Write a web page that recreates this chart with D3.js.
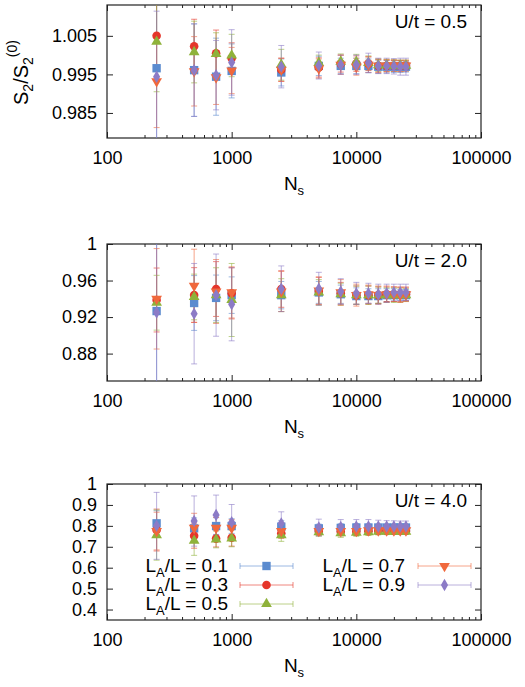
<!DOCTYPE html>
<html>
<head>
<meta charset="utf-8">
<script src="https://cdn.jsdelivr.net/npm/d3@7"></script>
<style>
  body { margin: 0; background: #fff; }
  svg { font-family: "Liberation Sans", Arial, sans-serif; }
  .tick text { font-size: 18px; fill: #000; }
  .tick line { stroke: #222; }
</style>
</head>
<body>
<svg id="chart" width="525" height="687"></svg>
<script>
// sample counts on the x axis
const Ns = [250, 500, 750, 1000, 2500, 5000, 7500, 10000, 12500, 15000, 17500, 20000, 22500, 25000];
const ratios = ["0.1", "0.3", "0.5", "0.7", "0.9"];
const colors = ["#5b8bcf", "#e5352a", "#8fb23a", "#f0683c", "#8c7bc6"];
const xTicks = [100, 1000, 10000, 100000];

// U/t = 0.5
const u05_L01 = [0.9966, 0.9961, 0.9944, 0.9959, 0.9955, 0.9972, 0.9972, 0.9972, 0.9972, 0.9970, 0.9970, 0.9970, 0.9970, 0.9970];
const u05_L03 = [1.0050, 1.0023, 1.0005, 0.9992, 0.9962, 0.9968, 0.9978, 0.9978, 0.9978, 0.9972, 0.9972, 0.9972, 0.9972, 0.9972];
const u05_L05 = [1.0035, 1.0008, 1.0003, 0.9999, 0.9975, 0.9980, 0.9983, 0.9982, 0.9980, 0.9974, 0.9974, 0.9973, 0.9973, 0.9973];
const u05_L07 = [0.9932, 0.9958, 0.9942, 0.9960, 0.9962, 0.9965, 0.9975, 0.9970, 0.9975, 0.9972, 0.9973, 0.9973, 0.9972, 0.9973];
const u05_L09 = [0.9944, 0.9961, 0.9948, 0.9981, 0.9970, 0.9973, 0.9975, 0.9975, 0.9980, 0.9972, 0.9972, 0.9971, 0.9970, 0.9970];
const u05_L01_err = [0.025, 0.012, 0.010, 0.007, 0.0035, 0.0025, 0.002, 0.002, 0.0018, 0.0017, 0.0016, 0.0015, 0.0015, 0.0014];
const u05_L03_err = [0.009, 0.007, 0.006, 0.004, 0.003, 0.0025, 0.0022, 0.002, 0.0018, 0.0016, 0.0015, 0.0014, 0.0014, 0.0013];
const u05_L05_err = [0.013, 0.008, 0.0055, 0.0055, 0.004, 0.002, 0.002, 0.002, 0.0018, 0.0016, 0.0015, 0.0015, 0.0014, 0.0014];
const u05_L07_err = [0.012, 0.009, 0.007, 0.006, 0.003, 0.0025, 0.0025, 0.0022, 0.002, 0.0018, 0.0016, 0.0015, 0.0015, 0.0014];
const u05_L09_err = [0.017, 0.012, 0.009, 0.0085, 0.0055, 0.0035, 0.0025, 0.0025, 0.0025, 0.002, 0.002, 0.002, 0.0022, 0.0022];

// U/t = 2.0
const u20_L01 = [0.9266, 0.9354, 0.941, 0.944, 0.944, 0.947, 0.945, 0.943, 0.943, 0.943, 0.944, 0.944, 0.944, 0.944];
const u20_L03 = [0.9387, 0.9441, 0.9507, 0.946, 0.9507, 0.9485, 0.946, 0.944, 0.944, 0.944, 0.945, 0.945, 0.945, 0.945];
const u20_L05 = [0.9357, 0.942, 0.944, 0.9387, 0.944, 0.947, 0.945, 0.944, 0.944, 0.944, 0.944, 0.944, 0.944, 0.944];
const u20_L07 = [0.940, 0.9543, 0.948, 0.947, 0.948, 0.949, 0.947, 0.944, 0.945, 0.944, 0.945, 0.945, 0.944, 0.945];
const u20_L09 = [0.925, 0.9237, 0.944, 0.934, 0.951, 0.951, 0.948, 0.946, 0.946, 0.945, 0.946, 0.947, 0.947, 0.947];
const u20_L01_err = [0.09, 0.03, 0.025, 0.02, 0.015, 0.012, 0.01, 0.009, 0.008, 0.008, 0.007, 0.007, 0.006, 0.006];
const u20_L03_err = [0.035, 0.03, 0.03, 0.028, 0.02, 0.015, 0.012, 0.01, 0.01, 0.009, 0.008, 0.008, 0.008, 0.007];
const u20_L05_err = [0.03, 0.025, 0.03, 0.04, 0.018, 0.014, 0.012, 0.01, 0.01, 0.009, 0.008, 0.008, 0.008, 0.007];
const u20_L07_err = [0.055, 0.04, 0.035, 0.028, 0.022, 0.015, 0.014, 0.012, 0.01, 0.01, 0.009, 0.008, 0.008, 0.008];
const u20_L09_err = [0.09, 0.055, 0.045, 0.04, 0.025, 0.018, 0.014, 0.012, 0.011, 0.011, 0.01, 0.009, 0.009, 0.009];

// U/t = 4.0
const u40_L01 = [0.812, 0.788, 0.799, 0.799, 0.796, 0.788, 0.79, 0.792, 0.792, 0.792, 0.792, 0.792, 0.792, 0.792];
const u40_L03 = [0.78, 0.753, 0.739, 0.743, 0.765, 0.775, 0.772, 0.772, 0.774, 0.775, 0.775, 0.775, 0.775, 0.775];
const u40_L05 = [0.756, 0.729, 0.735, 0.74, 0.756, 0.77, 0.765, 0.768, 0.77, 0.772, 0.772, 0.772, 0.772, 0.772];
const u40_L07 = [0.775, 0.79, 0.79, 0.79, 0.775, 0.775, 0.775, 0.775, 0.778, 0.778, 0.778, 0.778, 0.778, 0.778];
const u40_L09 = [0.80, 0.823, 0.852, 0.817, 0.812, 0.792, 0.795, 0.797, 0.797, 0.797, 0.797, 0.797, 0.797, 0.797];
const u40_L01_err = [0.06, 0.05, 0.04, 0.035, 0.03, 0.02, 0.02, 0.018, 0.016, 0.015, 0.014, 0.013, 0.012, 0.012];
const u40_L03_err = [0.1, 0.06, 0.04, 0.04, 0.025, 0.02, 0.02, 0.018, 0.016, 0.015, 0.014, 0.013, 0.012, 0.012];
const u40_L05_err = [0.12, 0.07, 0.04, 0.04, 0.03, 0.02, 0.02, 0.018, 0.016, 0.015, 0.014, 0.013, 0.012, 0.012];
const u40_L07_err = [0.09, 0.07, 0.05, 0.04, 0.03, 0.02, 0.02, 0.018, 0.016, 0.015, 0.014, 0.013, 0.012, 0.012];
const u40_L09_err = [0.16, 0.12, 0.095, 0.085, 0.055, 0.04, 0.035, 0.033, 0.033, 0.03, 0.028, 0.027, 0.026, 0.026];

const yTicksTop = [0.985, 0.995, 1.005];
const yTicksMid = [0.88, 0.92, 0.96, 1];
const yTicksBot = [0.4, 0.5, 0.6, 0.7, 0.8, 0.9, 1];

const symbols = [
    d3.symbol().type(d3.symbolSquare).size(70),
    d3.symbol().type(d3.symbolCircle).size(58),
    d3.symbol().type(d3.symbolTriangle).size(50),
    d3.symbol().type(d3.symbolTriangle).size(50),   // drawn upside down
    d3.symbol().type(d3.symbolDiamond).size(44)
];
const flip = [false, false, false, true, false];

const svg = d3.select("#chart");
const left = 107, right = 481;

const x = d3.scaleLog().domain([100, 100000]).range([left, right]);
const minorX = [];
for (let p = 100; p < 100000; p *= 10) {
    for (let k = 2; k <= 9; k++) minorX.push(k * p);
}

const panels = [
    { top: 5, bottom: 138, domain: [0.9785, 1.013], ticks: yTicksTop, label: "U/t = 0.5",
      vals: [u05_L01, u05_L03, u05_L05, u05_L07, u05_L09],
      errs: [u05_L01_err, u05_L03_err, u05_L05_err, u05_L07_err, u05_L09_err] },
    { top: 244, bottom: 381, domain: [0.85, 1.0], ticks: yTicksMid, label: "U/t = 2.0",
      vals: [u20_L01, u20_L03, u20_L05, u20_L07, u20_L09],
      errs: [u20_L01_err, u20_L03_err, u20_L05_err, u20_L07_err, u20_L09_err] },
    { top: 484, bottom: 620, domain: [0.35, 1.0], ticks: yTicksBot, label: "U/t = 4.0",
      vals: [u40_L01, u40_L03, u40_L05, u40_L07, u40_L09],
      errs: [u40_L01_err, u40_L03_err, u40_L05_err, u40_L07_err, u40_L09_err] }
];

function addNs(sel, cx, baseline) {
    const t = sel.append("text")
        .attr("x", cx).attr("y", baseline)
        .attr("text-anchor", "middle")
        .style("font-size", "19px");
    t.append("tspan").text("N");
    t.append("tspan").attr("dy", 5).style("font-size", "13px").text("s");
}

function drawPanel(p, i) {
    const y = d3.scaleLinear().domain(p.domain).range([p.bottom, p.top]);
    const g = svg.append("g");

    const clipId = "clip" + i;
    svg.append("clipPath").attr("id", clipId)
        .append("rect")
        .attr("x", left).attr("y", p.top)
        .attr("width", right - left).attr("height", p.bottom - p.top);

    // axes, ticks pointing inward
    const fmt = d3.format("~g");
    g.append("g").attr("transform", `translate(0,${p.bottom})`)
        .call(d3.axisBottom(x).tickValues(xTicks).tickSize(-6).tickPadding(13).tickFormat(d3.format("d")));
    g.append("g").attr("transform", `translate(0,${p.bottom})`)
        .call(d3.axisBottom(x).tickValues(minorX).tickSize(-3).tickFormat(""));
    g.append("g").attr("transform", `translate(0,${p.top})`)
        .call(d3.axisTop(x).tickValues(xTicks).tickSize(-6).tickFormat(""));
    g.append("g").attr("transform", `translate(0,${p.top})`)
        .call(d3.axisTop(x).tickValues(minorX).tickSize(-3).tickFormat(""));
    g.append("g").attr("transform", `translate(${left},0)`)
        .call(d3.axisLeft(y).tickValues(p.ticks).tickSize(-6).tickPadding(10).tickFormat(fmt));
    g.append("g").attr("transform", `translate(${right},0)`)
        .call(d3.axisRight(y).tickValues(p.ticks).tickSize(-6).tickFormat(""));
    g.selectAll(".domain").remove();

    g.append("rect")
        .attr("x", left).attr("y", p.top)
        .attr("width", right - left).attr("height", p.bottom - p.top)
        .attr("fill", "none").attr("stroke", "#222").attr("stroke-width", 1.2);

    const data = g.append("g").attr("clip-path", `url(#${clipId})`);

    p.vals.forEach((vals, s) => {
        const pts = Ns.map((n, j) => ({ n: n, v: vals[j], e: p.errs[s][j] }));
        const eb = data.append("g")
            .attr("stroke", colors[s]).attr("stroke-opacity", 0.6).attr("stroke-width", 1);
        eb.selectAll(".bar").data(pts).join("line")
            .attr("x1", d => x(d.n)).attr("x2", d => x(d.n))
            .attr("y1", d => y(d.v - d.e)).attr("y2", d => y(d.v + d.e));
        eb.selectAll(".capt").data(pts).join("line")
            .attr("x1", d => x(d.n) - 3).attr("x2", d => x(d.n) + 3)
            .attr("y1", d => y(d.v + d.e)).attr("y2", d => y(d.v + d.e));
        eb.selectAll(".capb").data(pts).join("line")
            .attr("x1", d => x(d.n) - 3).attr("x2", d => x(d.n) + 3)
            .attr("y1", d => y(d.v - d.e)).attr("y2", d => y(d.v - d.e));
    });

    p.vals.forEach((vals, s) => {
        data.append("g").selectAll("path")
            .data(Ns.map((n, j) => ({ n: n, v: vals[j] })))
            .join("path")
            .attr("d", symbols[s])
            .attr("transform", d => `translate(${x(d.n)},${y(d.v)})` + (flip[s] ? " rotate(180)" : ""))
            .attr("fill", colors[s]);
    });

    svg.append("text")
        .attr("x", 467).attr("y", p.top + 23)
        .attr("text-anchor", "end")
        .style("font-size", "19px")
        .text(p.label);

    addNs(svg, (left + right) / 2, p.bottom + 52);
}

panels.forEach(drawPanel);

// y label of the top panel
const yl = svg.append("text")
    .attr("transform", "translate(28,105) rotate(-90)")
    .attr("text-anchor", "start")
    .style("font-size", "20px");
yl.append("tspan").text("S");
yl.append("tspan").attr("dy", 5).style("font-size", "14px").text("2");
yl.append("tspan").attr("dy", -5).text("/S");
yl.append("tspan").attr("dy", 5).style("font-size", "14px").text("2");
yl.append("tspan").attr("dy", -16).style("font-size", "14px").text("(0)");

// legend in the bottom panel
const legRows = [[0, 0], [0, 1], [0, 2], [1, 0], [1, 1]];
const legCols = [{ textX: 228, x1: 240, x2: 293 }, { textX: 405, x1: 418, x2: 471 }];
const legY = [566, 585, 604];
const leg = svg.append("g");
ratios.forEach((r, s) => {
    const c = legCols[legRows[s][0]], cy = legY[legRows[s][1]];
    const t = leg.append("text")
        .attr("x", c.textX).attr("y", cy + 6)
        .attr("text-anchor", "end")
        .style("font-size", "19px");
    t.append("tspan").text("L");
    t.append("tspan").attr("dy", 5).style("font-size", "13px").text("A");
    t.append("tspan").attr("dy", -5).text("/L = " + r);

    const lg = leg.append("g").attr("stroke", colors[s]).attr("stroke-opacity", 0.6);
    lg.append("line").attr("x1", c.x1).attr("x2", c.x2).attr("y1", cy).attr("y2", cy);
    lg.append("line").attr("x1", c.x1).attr("x2", c.x1).attr("y1", cy - 3).attr("y2", cy + 3);
    lg.append("line").attr("x1", c.x2).attr("x2", c.x2).attr("y1", cy - 3).attr("y2", cy + 3);
    leg.append("path")
        .attr("d", symbols[s])
        .attr("transform", `translate(${(c.x1 + c.x2) / 2},${cy})` + (flip[s] ? " rotate(180)" : ""))
        .attr("fill", colors[s]);
});
</script>
</body>
</html>
